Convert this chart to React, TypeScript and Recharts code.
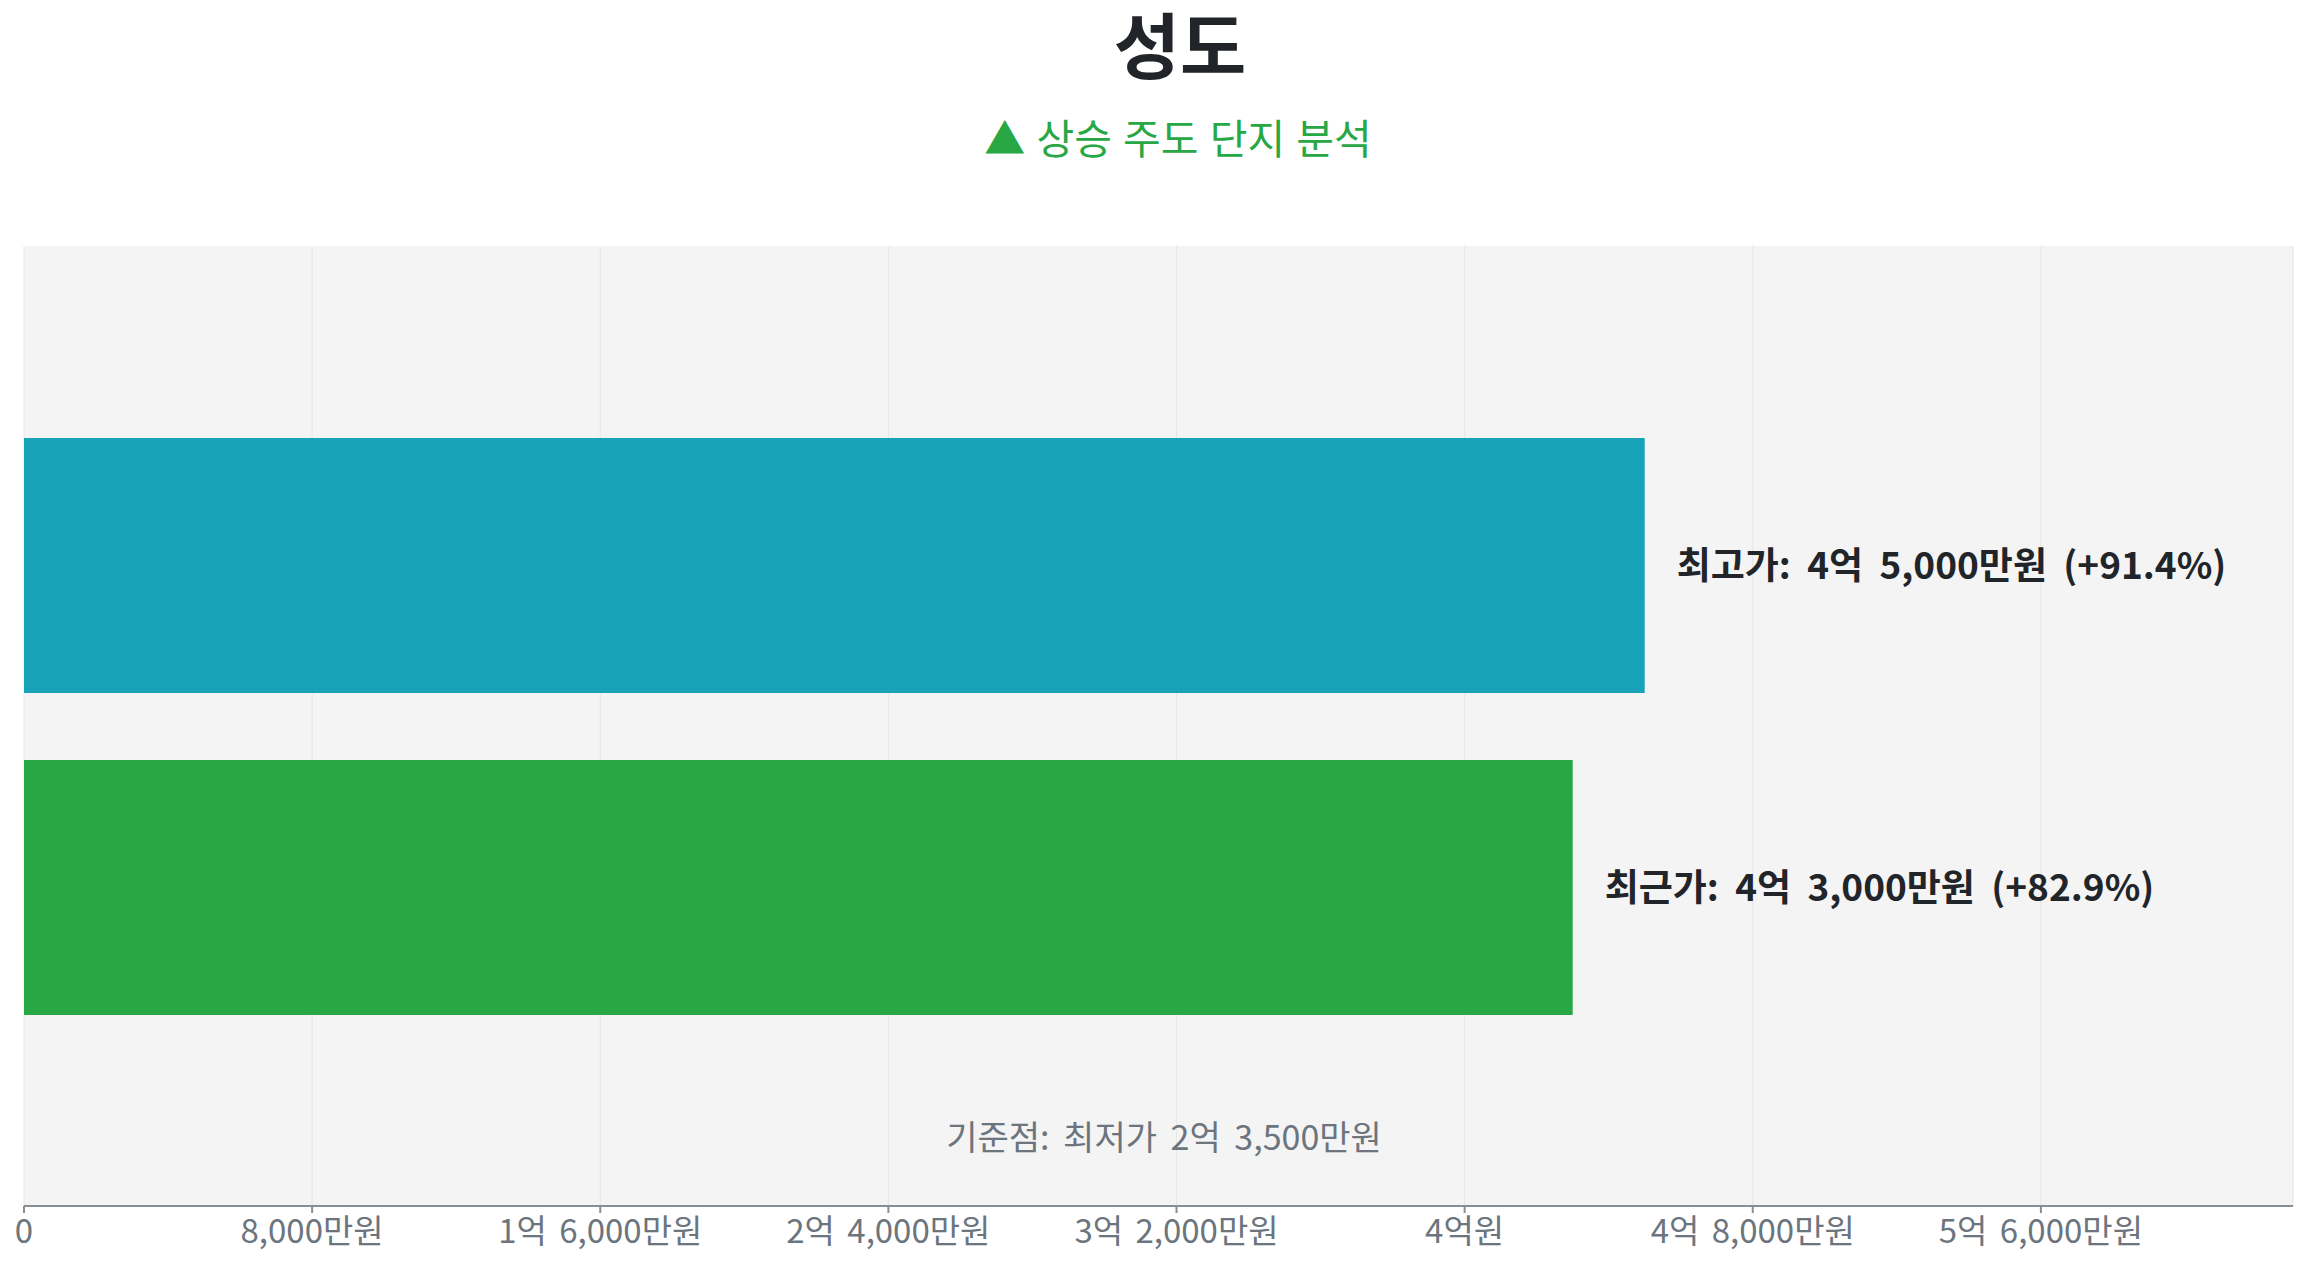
import { Bar, BarChart, CartesianGrid, LabelList, XAxis, YAxis } from "recharts";

// values in 만원
const categories = ["성도"];
const highPrices = [45000];
const recentPrices = [43000];
const highChange = ["+91.4%"];
const recentChange = ["+82.9%"];
const xTicks = [0, 8000, 16000, 24000, 32000, 40000, 48000, 56000];
const xMax = 63000;
const baseNote = "기준점: 최저가 2억 3,500만원";

const font = '"Noto Sans CJK KR", "Noto Sans", sans-serif';

const data = categories.map((name, i) => ({
  name,
  high: highPrices[i],
  recent: recentPrices[i],
}));

function formatWon(v: number) {
  if (v === 0) return "0";
  const eok = Math.floor(v / 10000);
  const man = v % 10000;
  if (eok === 0) return `${man.toLocaleString()}만원`;
  if (man === 0) return `${eok}억원`;
  return `${eok}억 ${man.toLocaleString()}만원`;
}

const labelStyle = {
  fill: "#212529",
  fontSize: 37,
  fontWeight: 700,
  fontFamily: font,
  wordSpacing: 8,
};

export default function App() {
  return (
    <div style={{ position: "relative", width: 2308, height: 1268, fontFamily: font, background: "#fff" }}>
      <style>{"body{margin:0}"}</style>
      <div
        style={{
          position: "absolute",
          left: 1180 - 500,
          width: 1000,
          top: 2,
          textAlign: "center",
          fontSize: 72,
          lineHeight: "80px",
          fontWeight: 700,
          color: "#212529",
        }}
      >
        성도
      </div>
      <div
        style={{
          position: "absolute",
          left: 1178 - 500,
          width: 1000,
          top: 115,
          textAlign: "center",
          fontSize: 41,
          lineHeight: "42px",
          color: "#28a745",
          wordSpacing: 2,
        }}
      >
        ▲ 상승 주도 단지 분석
      </div>
      <div style={{ position: "absolute", left: 0, top: 0 }}>
        <BarChart
          width={2308}
          height={1268}
          data={data}
          layout="vertical"
          margin={{ top: 246, right: 15, bottom: 0, left: 24 }}
          barCategoryGap="20%"
          barGap={67}
        >
          <CartesianGrid horizontal={false} stroke="#e6e6e6" fill="#f4f4f4" />
          <XAxis
            type="number"
            domain={[0, xMax]}
            ticks={xTicks}
            tickFormatter={formatWon}
            interval={0}
            axisLine={{ stroke: "#868e96", strokeWidth: 2 }}
            tickLine={{ stroke: "#868e96", strokeWidth: 2 }}
            tickSize={7}
            tickMargin={7}
            tick={{ fill: "#6c757d", fontSize: 33, fontFamily: font, wordSpacing: 5 }}
            height={62}
          />
          <YAxis
            type="category"
            dataKey="name"
            width={0}
            tick={false}
            tickLine={false}
            axisLine={{ stroke: "#868e96", strokeWidth: 2 }}
          />
          <Bar dataKey="high" fill="#17a2b8" isAnimationActive={false}>
            <LabelList
              dataKey="high"
              position="right"
              offset={32}
              formatter={(v: number) => `최고가: ${formatWon(v)} (${highChange[0]})`}
              style={labelStyle}
            />
          </Bar>
          <Bar dataKey="recent" fill="#28a745" isAnimationActive={false}>
            <LabelList
              dataKey="recent"
              position="right"
              offset={32}
              formatter={(v: number) => `최근가: ${formatWon(v)} (${recentChange[0]})`}
              style={labelStyle}
            />
          </Bar>
        </BarChart>
      </div>
      <div
        style={{
          position: "absolute",
          left: 1164 - 500,
          width: 1000,
          top: 1142 - 24,
          textAlign: "center",
          fontSize: 34,
          lineHeight: "36px",
          color: "#6c757d",
          wordSpacing: 6,
        }}
      >
        {baseNote}
      </div>
    </div>
  );
}
